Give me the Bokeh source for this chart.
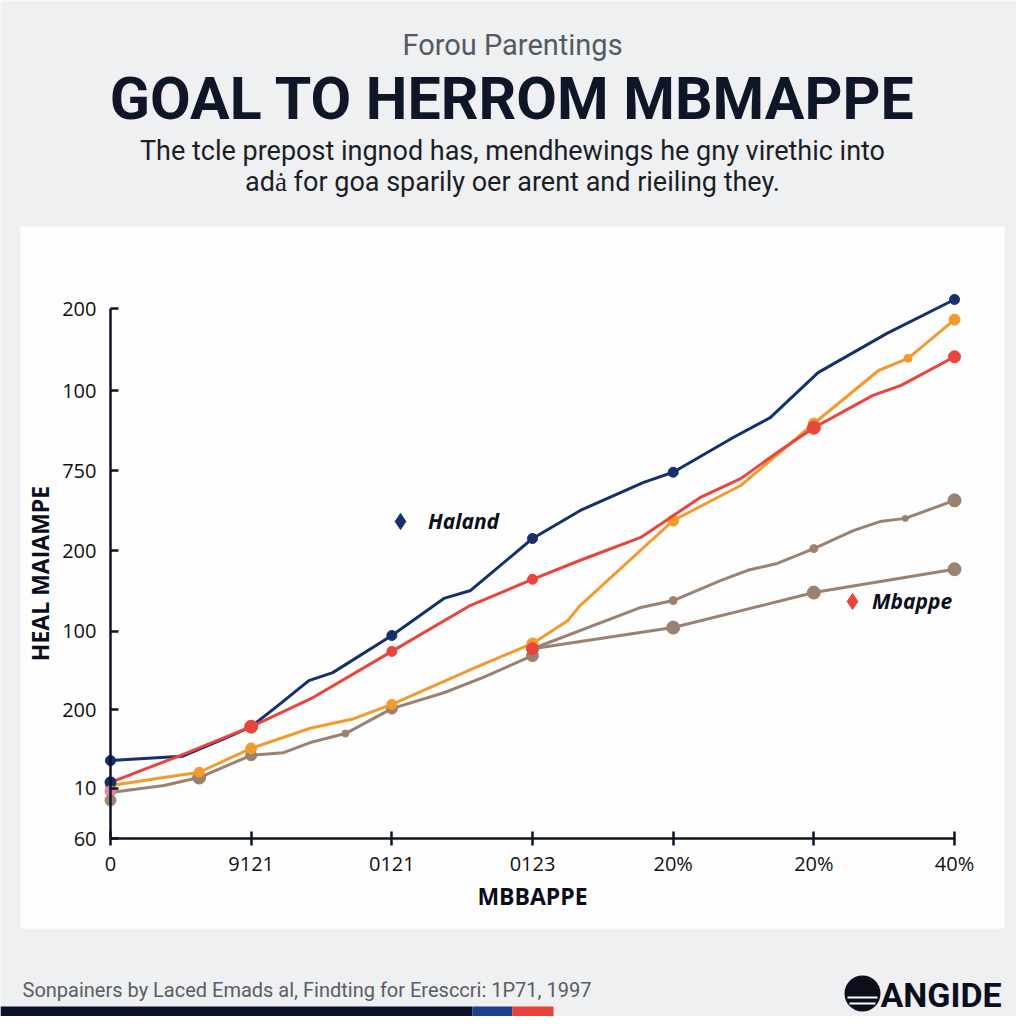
import numpy as np
from bokeh.plotting import figure
from bokeh.models import Range1d, FixedTicker, Label, BoxAnnotation, Legend, LegendItem
from bokeh.embed import file_html
from bokeh.resources import INLINE

# ---------------- data ----------------
x_ticks = [0, 1, 2, 3, 4, 5, 6]
x_tick_labels = ["0", "9121", "0121", "0123", "20%", "20%", "40%"]
y_ticks = [0, 9.5, 24.3, 39.1, 54.3, 69.4, 84.5, 100]
y_tick_labels = ["60", "10", "200", "100", "200", "750", "100", "200"]

haland_x = [0, 0.51, 0.83, 1.0, 1.21, 1.41, 1.58, 2.0, 2.37, 2.56, 3.0, 3.34, 3.79, 4.0, 4.43, 4.69, 5.03, 5.52, 6.0]
haland_y = [14.7, 15.5, 19.1, 21.1, 25.5, 29.8, 31.3, 38.3, 45.3, 46.8, 56.6, 61.9, 67.2, 69.1, 75.7, 79.4, 87.9, 95.3, 101.7]
haland_dots = [0, 3, 7, 10, 13, 18]

mbappe_x = [0, 0.50, 1.0, 1.44, 2.0, 2.56, 3.0, 3.34, 3.77, 4.19, 4.48, 4.76, 5.0, 5.42, 5.62, 6.0]
mbappe_y = [10.6, 15.7, 21.1, 26.6, 35.3, 44.0, 48.9, 52.5, 56.8, 64.3, 67.9, 73.2, 77.5, 83.6, 85.5, 90.9]
mbappe_dots = [0, 2, 4, 6, 12, 15]
mbappe_dot_sizes = [10, 13, 10, 10, 13, 12]

orange_x = [0, 0.63, 1.0, 1.42, 1.73, 2.0, 2.58, 3.0, 3.25, 3.34, 4.0, 4.48, 5.0, 5.46, 5.67, 6.0]
orange_y = [10.0, 12.5, 17.0, 20.8, 22.6, 25.3, 32.1, 36.8, 41.1, 44.0, 60.0, 66.6, 78.3, 88.3, 90.6, 97.9]
orange_dots = [0, 1, 2, 5, 7, 10, 12, 14, 15]
orange_dot_sizes = [10, 10, 11, 10, 11, 11, 11, 8, 11]

brown_x = [0, 0.38, 0.63, 1.0, 1.23, 1.42, 1.67, 2.0, 2.37, 2.65, 3.0]
brown_y = [8.7, 10.0, 11.5, 15.7, 16.2, 18.1, 19.8, 24.5, 27.5, 30.4, 34.5]
brown_dots = [2, 3, 6, 7, 10]
brown_dot_sizes = [13, 11, 7, 11, 12]

brown_up_x = [3.0, 3.77, 4.0, 4.34, 4.53, 4.74, 5.0, 5.28, 5.47, 5.65, 6.0]
brown_up_y = [35.8, 43.6, 44.9, 48.7, 50.6, 51.9, 54.7, 58.1, 59.8, 60.4, 63.8]
brown_up_dots = [2, 6, 9, 10]
brown_up_dot_sizes = [8, 8, 6, 13]

brown_low_x = [3.0, 4.0, 5.0, 6.0]
brown_low_y = [35.8, 39.8, 46.4, 50.8]
brown_low_dot_sizes = [11, 13, 13, 13]

start_dot_y = [10.6, 8.9, 7.2]
extra_dot = (3.0, 35.8)

NAVY = "#15306a"
RED = "#e8453c"
ORANGE = "#f29a2e"
BROWN = "#9a8272"
PINK = "#e8809a"
INK = "#0e1426"
PAGE = "#eef0f2"

# ---------------- layout (pixels of the 1024 px reference) ----------------
W = H = 1016
X0_PX, DX_PX = 110, 140.67   # x tick 0 position, spacing
Y0_PX, DY_PX = 838, 5.3      # baseline, px per unit

x_range = Range1d(-X0_PX / DX_PX, (W - X0_PX) / DX_PX)
y_range = Range1d(-(H - Y0_PX) / DY_PX, Y0_PX / DY_PX)

p = figure(width=W, height=H, x_range=x_range, y_range=y_range,
           output_backend="svg", toolbar_location=None, min_border=0)
p.background_fill_color = PAGE
p.border_fill_color = PAGE
p.outline_line_color = None
p.xgrid.visible = False
p.ygrid.visible = False


def sx(rx):
    return rx


def sy(ry):
    return H - ry


def box(l, t, r, b, color, level="underlay", radius=0):
    p.add_layout(BoxAnnotation(left=sx(l), right=sx(r), top=sy(t), bottom=sy(b),
                               left_units="screen", right_units="screen",
                               top_units="screen", bottom_units="screen",
                               fill_color=color, fill_alpha=1, line_color=None,
                               level=level, border_radius=radius))


def label(text, rx, ry, size, color, style="normal", font="Roboto", align="center"):
    p.add_layout(Label(x=sx(rx), y=sy(ry), x_units="screen", y_units="screen",
                       text=text, text_font=font, text_font_size=f"{size}px",
                       text_color=color, text_font_style=style,
                       text_align=align, text_baseline="middle"))


# white card
box(20, 226, 1004, 928, "#fdfdfd")

# ---------------- axes ----------------
xa = p.xaxis[0]
xa.fixed_location = 0
xa.bounds = (0, 6)
xa.ticker = FixedTicker(ticks=x_ticks)
xa.major_label_overrides = {t: l for t, l in zip(x_ticks, x_tick_labels)}
xa.axis_line_color = INK
xa.axis_line_width = 2.5
xa.major_tick_line_color = INK
xa.major_tick_line_width = 2.5
xa.major_tick_in = 7
xa.major_tick_out = 7
xa.minor_tick_line_color = None
xa.major_label_standoff = 4
xa.major_label_text_font = "Open Sans"
xa.major_label_text_font_size = "20px"
xa.major_label_text_color = "#111111"
xa.axis_label = "MBBAPPE"
xa.axis_label_text_font = "Open Sans"
xa.axis_label_text_font_style = "bold"
xa.axis_label_text_font_size = "23px"
xa.axis_label_text_color = "#0b0f1c"
xa.axis_label_standoff = 0

ya = p.yaxis[0]
ya.fixed_location = 0
ya.bounds = (0, 100)
ya.ticker = FixedTicker(ticks=y_ticks)
ya.major_label_overrides = {t: l for t, l in zip(y_ticks, y_tick_labels)}
ya.axis_line_color = INK
ya.axis_line_width = 2.5
ya.major_tick_line_color = INK
ya.major_tick_line_width = 2.5
ya.major_tick_in = 8
ya.major_tick_out = 0
ya.minor_tick_line_color = None
ya.major_label_standoff = 14
ya.major_label_text_font = "Open Sans"
ya.major_label_text_font_size = "20px"
ya.major_label_text_color = "#111111"
ya.axis_label = "HEAL MAIAMPE"
ya.axis_label_text_font = "Open Sans"
ya.axis_label_text_font_style = "bold"
ya.axis_label_text_font_size = "23px"
ya.axis_label_text_color = "#0b0f1c"
ya.axis_label_standoff = 3

# ---------------- series ----------------
def pick(arr, idx):
    return [arr[i] for i in idx]


p.line(brown_x, brown_y, color=BROWN, line_width=3, line_join="round")
p.line(brown_up_x, brown_up_y, color=BROWN, line_width=3, line_join="round")
p.line(brown_low_x, brown_low_y, color=BROWN, line_width=3, line_join="round")
p.scatter(pick(brown_x, brown_dots), pick(brown_y, brown_dots), size=brown_dot_sizes, color=BROWN)
p.scatter(pick(brown_up_x, brown_up_dots), pick(brown_up_y, brown_up_dots), size=brown_up_dot_sizes, color=BROWN)
p.scatter(brown_low_x, brown_low_y, size=brown_low_dot_sizes, color=BROWN)

p.line(orange_x, orange_y, color=ORANGE, line_width=3, line_join="round")
p.scatter(pick(orange_x, orange_dots), pick(orange_y, orange_dots), size=orange_dot_sizes, color=ORANGE)

p.line(haland_x, haland_y, color=NAVY, line_width=3, line_join="round")
p.scatter(pick(haland_x, haland_dots), pick(haland_y, haland_dots), size=10, color=NAVY)

p.line(mbappe_x, mbappe_y, color=RED, line_width=3, line_join="round")
p.scatter(pick(mbappe_x, mbappe_dots), pick(mbappe_y, mbappe_dots), size=mbappe_dot_sizes, color=RED)
p.scatter([extra_dot[0]], [extra_dot[1]], size=12, color=RED)

p.scatter([0, 0, 0], start_dot_y, size=11, color=[NAVY, PINK, BROWN])

# ---------------- in-plot legend entries ----------------
r_hal = p.scatter(x=[np.nan], y=[np.nan], marker="diamond", color=NAVY)
r_mba = p.scatter(x=[np.nan], y=[np.nan], marker="diamond", color=RED)


def make_legend(name, rend, loc, standoff):
    lg = Legend(items=[LegendItem(label=name, renderers=[rend])], location=loc,
                padding=0, margin=0, spacing=0, glyph_width=40, glyph_height=40,
                label_standoff=standoff, label_height=40,
                label_text_font="Open Sans", label_text_font_style="bold italic",
                label_text_font_size="21px", label_text_color="#0b0f1c",
                border_line_color=None, background_fill_alpha=0)
    p.add_layout(lg)


make_legend("Haland", r_hal, (sx(380), sy(521) - 20), 8)
make_legend("Mbappe", r_mba, (sx(832), sy(601) - 20), 0)

# ---------------- texts ----------------
label("Forou Parentings", 512, 44, 29, "#555a60")
label("GOAL TO HERROM MBMAPPE", 512, 98, 59, "#0f1628", style="bold")
label("The tcle prepost ingnod has, mendhewings he gny virethic into", 512, 150, 27, "#1c1e26")
label("adȧ for goa sparily oer arent and rieiling they.", 512, 181, 27, "#1c1e26")
label("Sonpainers by Laced Emads al, Findting for Eresccri: 1P71, 1997", 22, 989, 20, "#5a5d63", align="left")
label("ANGIDE", 880, 994, 34, "#0b0f1c", style="bold", align="left")

# logo mark
box(844, 975, 880, 1011, "#0b0f1c", level="overlay", radius=18)
box(847, 996, 877, 998, "#fdfdfd", level="overlay")
box(849, 1002, 875, 1004, "#fdfdfd", level="overlay")

# bottom colour bar
box(0, 1006, 472, 1016, "#0a1128", level="overlay")
box(472, 1006, 512, 1016, "#1d3f8f", level="overlay")
box(512, 1006, 553, 1016, "#e8403a", level="overlay")

open("out.html", "w").write(file_html(p, INLINE))
